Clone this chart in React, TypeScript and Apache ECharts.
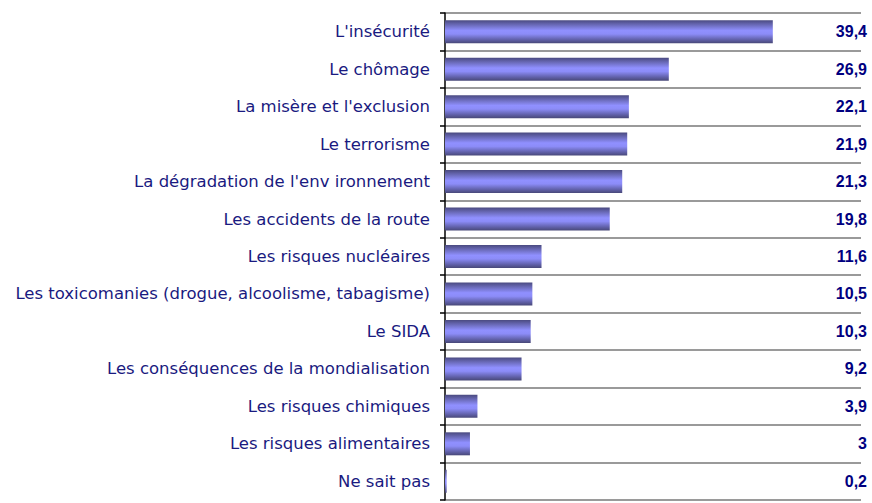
import React, { useEffect, useRef } from "react";
import * as echarts from "echarts";

const categories = [
  "L'insécurité",
  "Le chômage",
  "La misère et l'exclusion",
  "Le terrorisme",
  "La dégradation de l'env ironnement",
  "Les accidents de la route",
  "Les risques nucléaires",
  "Les toxicomanies (drogue, alcoolisme, tabagisme)",
  "Le SIDA",
  "Les conséquences de la mondialisation",
  "Les risques chimiques",
  "Les risques alimentaires",
  "Ne sait pas",
];
const values = [39.4, 26.9, 22.1, 21.9, 21.3, 19.8, 11.6, 10.5, 10.3, 9.2, 3.9, 3, 0.2];
const valueLabels = values.map((v) => String(v).replace(".", ","));

export default function App() {
  const ref = useRef<HTMLDivElement>(null);
  useEffect(() => {
    const chart = echarts.init(ref.current!, null, { renderer: "svg" });
    chart.setOption({
      animation: false,
      grid: { left: 445, right: 11, top: 13, bottom: 3, containLabel: false },
      xAxis: {
        type: "value",
        min: 0,
        max: 50,
        show: false,
      },
      yAxis: [
        {
          type: "category",
          data: categories,
          inverse: true,
          axisLine: { show: true, lineStyle: { color: "#000", width: 1.5 } },
          axisTick: { show: true, length: 5, lineStyle: { color: "#000", width: 1.5 } },
          axisLabel: {
            color: "#1a1a80",
            fontFamily: "DejaVu Sans, sans-serif",
            fontSize: 16.5,
            margin: 15,
          },
          splitLine: { show: true, lineStyle: { color: "#9a9a9a", width: 2 } },
        },
        {
          type: "category",
          data: valueLabels,
          inverse: true,
          position: "right",
          axisLine: { show: false },
          axisTick: { show: false },
          axisLabel: {
            color: "#000080",
            fontFamily: "Liberation Sans, Arial, sans-serif",
            fontSize: 16,
            fontWeight: "bold",
            align: "right",
            margin: 6,
          },
          splitLine: { show: false },
        },
      ],
      series: [
        {
          type: "bar",
          data: values,
          barWidth: 23,
          itemStyle: {
            color: new echarts.graphic.LinearGradient(0, 0, 0, 1, [
              { offset: 0, color: "#4a4a80" },
              { offset: 0.2, color: "#6a6ab8" },
              { offset: 0.45, color: "#9090ff" },
              { offset: 0.6, color: "#8c8cf8" },
              { offset: 0.85, color: "#6060a8" },
              { offset: 1, color: "#484878" },
            ]),
          },
        },
      ],
    });
    return () => chart.dispose();
  }, []);
  return <div ref={ref} style={{ width: 872, height: 503, position: "absolute", left: 0, top: 0 }} />;
}
